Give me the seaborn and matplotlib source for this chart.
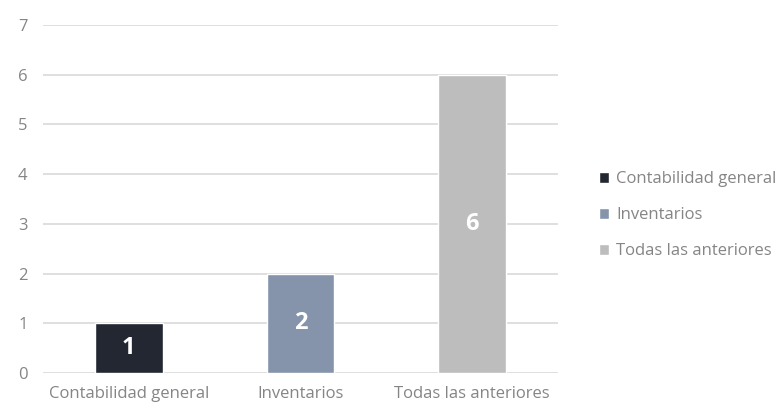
import matplotlib
matplotlib.use("Agg")
import matplotlib.pyplot as plt
import seaborn as sns
import pandas as pd

categories = ["Contabilidad general", "Inventarios", "Todas las anteriores"]
values = [1, 2, 6]
colors = ["#1f2635", "#7f93b1", "#bdbdbd"]
y_ticks = [0, 1, 2, 3, 4, 5, 6, 7]

sns.set_theme(style="white")
plt.rcParams["font.family"] = ["Open Sans", "DejaVu Sans"]

df = pd.DataFrame({"categoria": categories, "valor": values})

W, H = 780, 408
fig = plt.figure(figsize=(W / 100, H / 100), dpi=100)
left, right, bottom, top = 43, 558, 373, 25
ax = fig.add_axes([left / W, 1 - bottom / H, (right - left) / W, (bottom - top) / H])

sns.barplot(data=df, x="categoria", y="valor", hue="categoria",
            palette=colors, order=categories, hue_order=categories,
            width=0.395, dodge=False, legend=True, ax=ax, zorder=3)

ax.set_ylim(0, 7)
ax.set_yticks(y_ticks)
ax.yaxis.grid(True, color="#d9d9d9", linewidth=1.2, zorder=0)
ax.set_axisbelow(True)
for s in ax.spines.values():
    s.set_visible(False)
ax.tick_params(axis="both", length=0, colors="#858585", labelsize=12)
ax.tick_params(axis="y", pad=11)
ax.tick_params(axis="x", pad=9)
ax.set_xlabel("")
ax.set_ylabel("")

for cont in ax.containers:
    ax.bar_label(cont, label_type="center", color="white",
                 fontsize=17, fontweight="bold")

handles, labels = ax.get_legend_handles_labels()
ax.get_legend().remove()
fig.legend(handles, labels, loc="center left", bbox_to_anchor=(584 / W, 1 - 215 / H),
           frameon=False, fontsize=12, handlelength=0.62, handleheight=0.62,
           handletextpad=0.4, labelspacing=1.2, labelcolor="#858585")

fig.savefig("out.png", dpi=100, facecolor="white")
